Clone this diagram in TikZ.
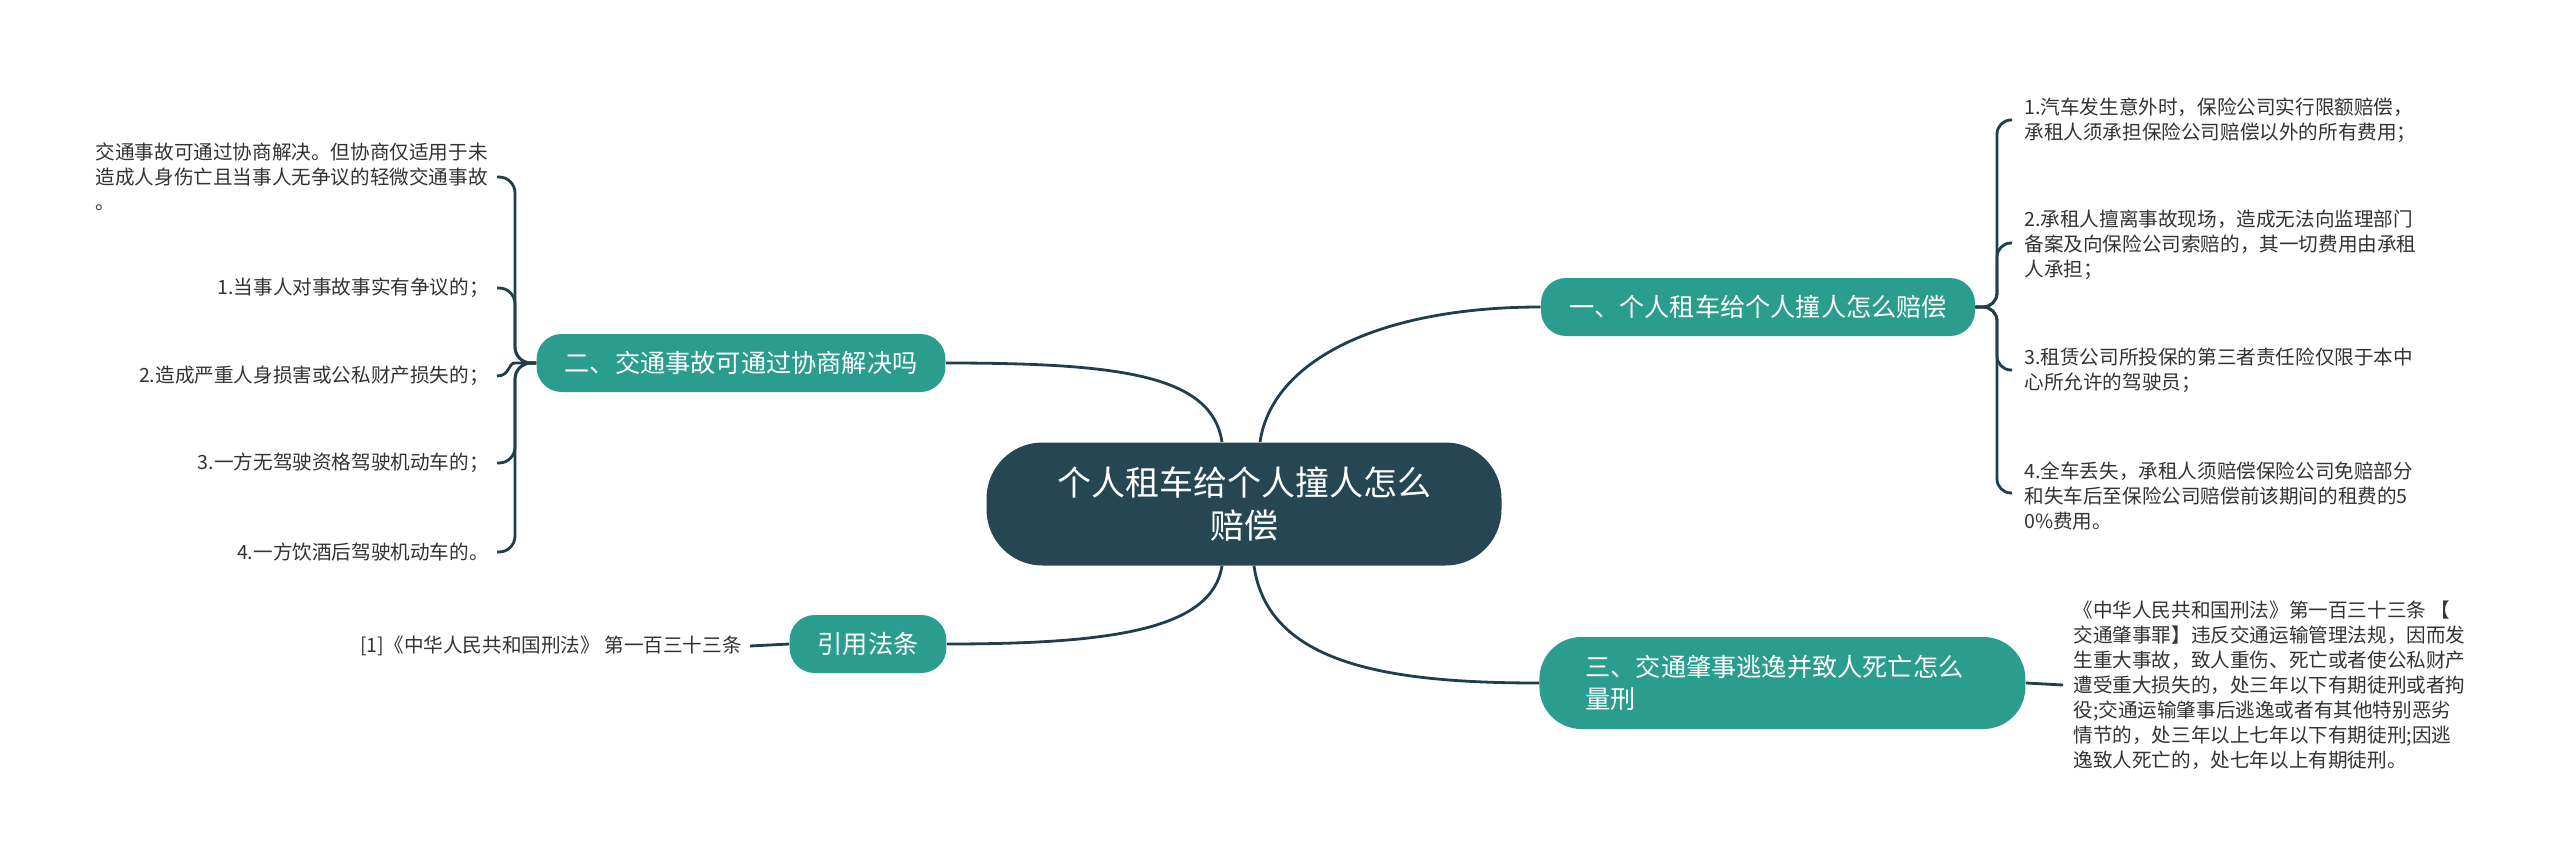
\documentclass[tikz,border=0pt]{standalone}
\usepackage{fontspec}
\setmainfont{Noto Sans CJK SC}
\definecolor{cdark}{HTML}{264653}
\definecolor{cteal}{HTML}{2A9D8F}
\definecolor{cline}{HTML}{223E4C}
\definecolor{ctext}{HTML}{333333}
\tikzset{
  centralbox/.style={fill=cdark, text=white, rounded corners=28pt, minimum width=257.5pt, minimum height=61.5pt, inner sep=0pt, align=center, font=\fontsize{17pt}{21.5pt}\selectfont},
  branchbox/.style={fill=cteal, text=white, rounded corners=12.5pt, minimum height=29pt, inner xsep=14pt, inner ysep=0pt, font=\fontsize{12.6pt}{16pt}\selectfont},
  leaftext/.style={text=ctext, inner ysep=0pt, align=left, font=\fontsize{9.8pt}{12.5pt}\selectfont},
  conn/.style={draw=cline, line width=1.4pt},
}
\begin{document}
\begin{tikzpicture}[x=0.5pt,y=-0.5pt]
\useasboundingbox[fill=white] (0,0) rectangle (2560,867);

% central
\node[centralbox] (c) at (1244,504) {个人租车给个人撞人怎么\\赔偿};

% branches
\node[branchbox] (n1) at (1758,307) {一、个人租车给个人撞人怎么赔偿};
\node[branchbox] (n2) at (741,363) {二、交通事故可通过协商解决吗};
\node[branchbox] (nr) at (868,644) {引用法条};
\node[branchbox, anchor=west, rounded corners=21pt, minimum height=46pt, inner xsep=23pt, text width=197pt, align=left] (n3) at (1539,683) {三、交通肇事逃逸并致人死亡怎么\\量刑};

% right leaves of n1
\node[leaftext, anchor=west, inner xsep=6pt] (r1) at (2012,120) {1.汽车发生意外时，保险公司实行限额赔偿，\\承租人须承担保险公司赔偿以外的所有费用；};
\node[leaftext, anchor=west, inner xsep=6pt] (r2) at (2012,245) {2.承租人擅离事故现场，造成无法向监理部门\\备案及向保险公司索赔的，其一切费用由承租\\人承担；};
\node[leaftext, anchor=west, inner xsep=6pt] (r3) at (2012,370) {3.租赁公司所投保的第三者责任险仅限于本中\\心所允许的驾驶员；};
\node[leaftext, anchor=west, inner xsep=6pt] (r4) at (2012,496) {4.全车丢失，承租人须赔偿保险公司免赔部分\\和失车后至保险公司赔偿前该期间的租费的5\\0\%费用。};

% leaf of n3
\node[leaftext, anchor=west, inner xsep=5pt] (t1) at (2063,685) {《中华人民共和国刑法》第一百三十三条 【\\交通肇事罪】违反交通运输管理法规，因而发\\生重大事故，致人重伤、死亡或者使公私财产\\遭受重大损失的，处三年以下有期徒刑或者拘\\役;交通运输肇事后逃逸或者有其他特别恶劣\\情节的，处三年以上七年以下有期徒刑;因逃\\逸致人死亡的，处七年以上有期徒刑。};

% left leaves of n2
\node[leaftext, anchor=east, inner xsep=4.5pt] (l0) at (497,177) {交通事故可通过协商解决。但协商仅适用于未\\造成人身伤亡且当事人无争议的轻微交通事故\\。};
\node[leaftext, anchor=east, inner xsep=4pt] (l1) at (497,288) {1.当事人对事故事实有争议的；};
\node[leaftext, anchor=east, inner xsep=4pt] (l2) at (497,376) {2.造成严重人身损害或公私财产损失的；};
\node[leaftext, anchor=east, inner xsep=4pt] (l3) at (497,463) {3.一方无驾驶资格驾驶机动车的；};
\node[leaftext, anchor=east, inner xsep=4pt] (l4) at (497,552) {4.一方饮酒后驾驶机动车的。};

% leaf of reference node
\node[leaftext, anchor=east, inner xsep=4pt] (q1) at (750,646) {[1]《中华人民共和国刑法》 第一百三十三条};

% central connectors
\draw[conn] ([xshift=-11pt]c.north) .. controls (1212,375) and (1120,363) .. (n2.east);
\draw[conn] ([xshift=8pt]c.north) .. controls (1272,360) and (1380,307) .. (n1.west);
\draw[conn] ([xshift=-11pt]c.south) .. controls (1212,630) and (1110,644) .. (nr.east);
\draw[conn] ([xshift=5pt]c.south) .. controls (1268,665) and (1390,683) .. (n3.west);

% right brace of n1
\coordinate (s1) at (1997,307);
\draw[conn, rounded corners=7pt] (n1.east) -- (s1) |- (r1.west);
\draw[conn, rounded corners=7pt] (n1.east) -- (s1) |- ([yshift=1pt]r2.west);
\draw[conn, rounded corners=7pt] (n1.east) -- (s1) |- (r3.west);
\draw[conn, rounded corners=7pt] (n1.east) -- (s1) |- ([yshift=1.5pt]r4.west);

% left brace of n2
\coordinate (s2) at (515,363);
\draw[conn, rounded corners=8pt] (n2.west) -- (s2) |- (l0.east);
\draw[conn, rounded corners=8pt] (n2.west) -- (s2) |- (l1.east);
\draw[conn] (n2.west) -- (s2) .. controls (508,363) and (510,376) .. (l2.east);
\draw[conn, rounded corners=8pt] (n2.west) -- (s2) |- (l3.east);
\draw[conn, rounded corners=8pt] (n2.west) -- (s2) |- (l4.east);

% single leaves
\draw[conn] (n3.east) -- (t1.west);
\draw[conn] (nr.west) -- (q1.east);
\end{tikzpicture}
\end{document}
